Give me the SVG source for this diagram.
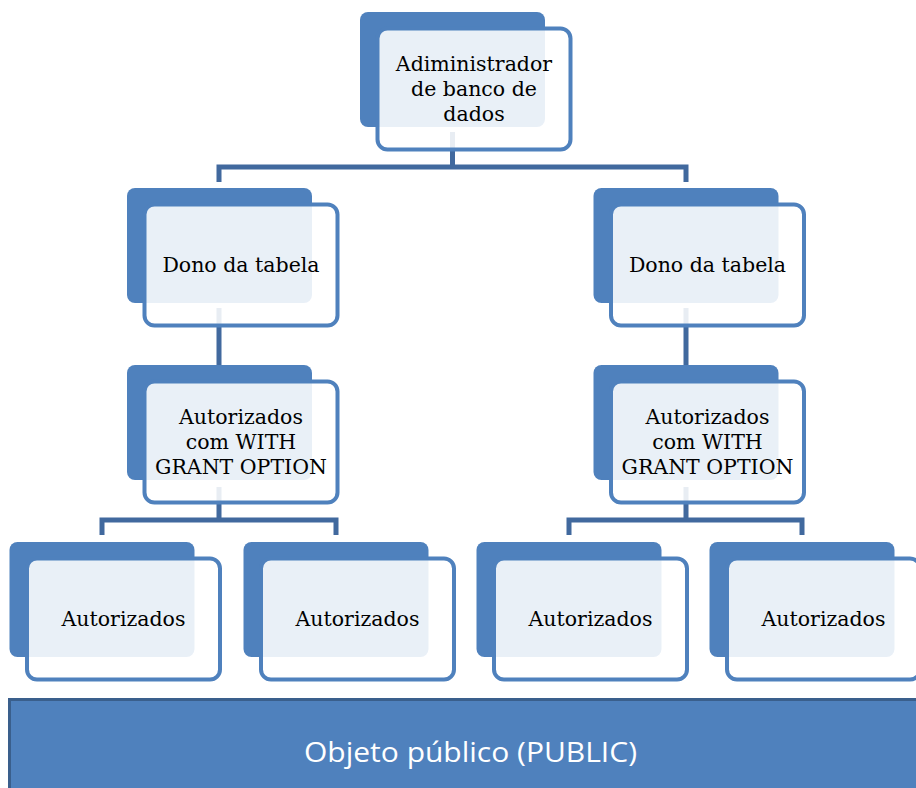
<svg xmlns="http://www.w3.org/2000/svg" width="916" height="788" viewBox="0 0 916 788">
<defs>
<style>
.back{fill:#4F81BD;}
.front{fill:#FFFFFF;fill-opacity:0.88;stroke:#4F81BD;stroke-width:4;}
.lbl{font-family:"DejaVu Serif","Liberation Serif",serif;font-size:20.5px;fill:#000;text-anchor:middle;}
.conn{fill:none;stroke:#41699E;stroke-width:5;}
</style>
</defs>
<rect width="916" height="788" fill="#FFFFFF"/>
<g id="connectors">
<path class="conn" d="M452.5,132 V167 M219,182 V167 H686 V182"/>
<path class="conn" d="M219,308 V365 M686,308 V365"/>
<path class="conn" d="M219,487 V520 M102,535 V520 H336 V535"/>
<path class="conn" d="M686,487 V520 M569,535 V520 H802 V535"/>
</g>
<g id="n-admin">
<rect class="back" x="360" y="12" width="185" height="115" rx="8"/>
<rect class="front" x="377.5" y="28.5" width="193" height="121" rx="10"/>
<text class="lbl" x="474" y="71">Adiministrador</text>
<text class="lbl" x="474" y="96">de banco de</text>
<text class="lbl" x="474" y="121">dados</text>
</g>
<g id="n-dono-l">
<rect class="back" x="127" y="188" width="185" height="115" rx="8"/>
<rect class="front" x="144.5" y="204.5" width="193" height="121" rx="10"/>
<text class="lbl" x="241" y="272">Dono da tabela</text>
</g>
<g id="n-dono-r">
<rect class="back" x="593.5" y="188" width="185" height="115" rx="8"/>
<rect class="front" x="611" y="204.5" width="193" height="121" rx="10"/>
<text class="lbl" x="707.5" y="272">Dono da tabela</text>
</g>
<g id="n-grant-l">
<rect class="back" x="127" y="365" width="185" height="115" rx="8"/>
<rect class="front" x="144.5" y="381.5" width="193" height="121" rx="10"/>
<text class="lbl" x="241" y="424">Autorizados</text>
<text class="lbl" x="241" y="449">com WITH</text>
<text class="lbl" x="241" y="474">GRANT OPTION</text>
</g>
<g id="n-grant-r">
<rect class="back" x="593.5" y="365" width="185" height="115" rx="8"/>
<rect class="front" x="611" y="381.5" width="193" height="121" rx="10"/>
<text class="lbl" x="707.5" y="424">Autorizados</text>
<text class="lbl" x="707.5" y="449">com WITH</text>
<text class="lbl" x="707.5" y="474">GRANT OPTION</text>
</g>
<g id="n-aut-1">
<rect class="back" x="9.5" y="542" width="185" height="115" rx="8"/>
<rect class="front" x="27" y="558.5" width="193" height="121" rx="10"/>
<text class="lbl" x="123.5" y="626">Autorizados</text>
</g>
<g id="n-aut-2">
<rect class="back" x="243.5" y="542" width="185" height="115" rx="8"/>
<rect class="front" x="261" y="558.5" width="193" height="121" rx="10"/>
<text class="lbl" x="357.5" y="626">Autorizados</text>
</g>
<g id="n-aut-3">
<rect class="back" x="476.5" y="542" width="185" height="115" rx="8"/>
<rect class="front" x="494" y="558.5" width="193" height="121" rx="10"/>
<text class="lbl" x="590.5" y="626">Autorizados</text>
</g>
<g id="n-aut-4">
<rect class="back" x="709.5" y="542" width="185" height="115" rx="8"/>
<rect class="front" x="727" y="558.5" width="193" height="121" rx="10"/>
<text class="lbl" x="823.5" y="626">Autorizados</text>
</g>
<g id="n-public">
<rect x="9.5" y="699.5" width="920" height="100" fill="#4F81BD" stroke="#3A5F8C" stroke-width="3"/>
<text x="470.5" y="762" font-family="'Open Sans','Liberation Sans',sans-serif" font-size="28" fill="#FFFFFF" text-anchor="middle" textLength="333" lengthAdjust="spacingAndGlyphs">Objeto público (PUBLIC)</text>
</g>
</svg>
